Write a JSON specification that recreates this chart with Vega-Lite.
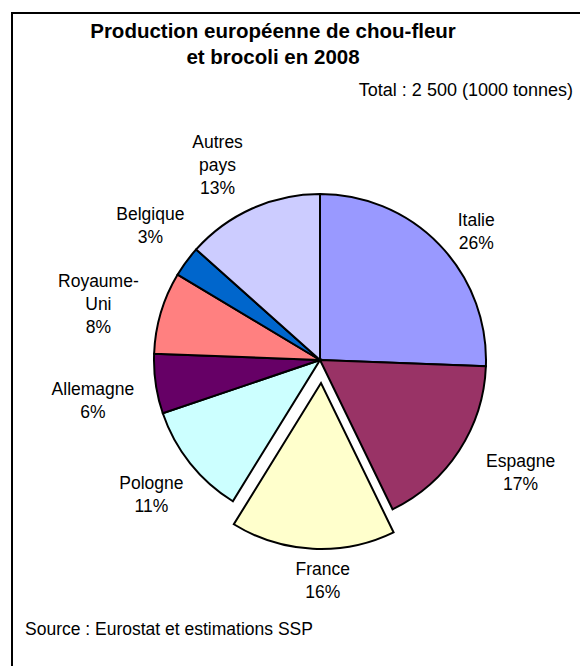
{
  "$schema": "https://vega.github.io/schema/vega-lite/v6.json",
  "padding": {"left": 11, "top": 12, "right": 0, "bottom": 0},
  "background": "white",
  "title": {
    "text": ["Production européenne de chou-fleur", "et brocoli en 2008"],
    "anchor": "middle",
    "dx": -47,
    "offset": -56,
    "fontSize": 20.5,
    "fontWeight": "bold",
    "lineHeight": 26
  },
  "vconcat": [
    {
      "title": {
        "text": "Total : 2 500 (1000 tonnes)",
        "anchor": "end",
        "dx": -56,
        "offset": -88,
        "fontSize": 18,
        "fontWeight": "normal"
      },
      "vconcat": [
        {
          "title": {
            "text": "Source : Eurostat et estimations SSP",
            "orient": "bottom",
            "anchor": "start",
            "dx": 13,
            "offset": -86,
            "fontSize": 17.5,
            "fontWeight": "normal"
          },
          "width": 616,
          "height": 694,
          "view": {"stroke": "black", "strokeWidth": 2},
          "data": {
            "values": [
              {"pays": "Italie", "valeur": 640, "rang": 1, "etiquette": "Italie\n26%"},
              {"pays": "Espagne", "valeur": 430, "rang": 2, "etiquette": "Espagne\n17%"},
              {"pays": "France", "valeur": 400, "rang": 3, "etiquette": "France\n16%"},
              {"pays": "Pologne", "valeur": 275, "rang": 4, "etiquette": "Pologne\n11%"},
              {"pays": "Allemagne", "valeur": 145, "rang": 5, "etiquette": "Allemagne\n6%"},
              {"pays": "Royaume-Uni", "valeur": 200, "rang": 6, "etiquette": "Royaume-\nUni\n8%"},
              {"pays": "Belgique", "valeur": 75, "rang": 7, "etiquette": "Belgique\n3%"},
              {"pays": "Autres pays", "valeur": 335, "rang": 8, "etiquette": "Autres\npays\n13%"}
            ]
          },
          "layer": [
            {
              "mark": {"type": "arc", "outerRadius": 166, "stroke": "black", "strokeWidth": 2},
              "encoding": {
                "theta": {"field": "valeur", "type": "quantitative", "stack": true},
                "order": {"field": "rang", "type": "quantitative"},
                "color": {
                  "field": "pays",
                  "type": "nominal",
                  "scale": {
                    "domain": ["Italie", "Espagne", "France", "Pologne", "Allemagne", "Royaume-Uni", "Belgique", "Autres pays"],
                    "range": ["#9999FF", "#993366", "#FFFFCC", "#CCFFFF", "#660066", "#FF8080", "#0066CC", "#CCCCFF"]
                  },
                  "legend": null
                },
                "opacity": {"condition": {"test": "datum.pays === 'France'", "value": 0}, "value": 1}
              }
            },
            {
              "mark": {"type": "arc", "outerRadius": 166, "stroke": "black", "strokeWidth": 2, "xOffset": 1, "yOffset": 23},
              "encoding": {
                "theta": {"field": "valeur", "type": "quantitative", "stack": true},
                "order": {"field": "rang", "type": "quantitative"},
                "color": {"field": "pays", "type": "nominal", "legend": null},
                "opacity": {"condition": {"test": "datum.pays === 'France'", "value": 1}, "value": 0}
              }
            },
            {
              "mark": {"type": "text", "radius": 209, "thetaOffset": 0.04, "fontSize": 17.5, "lineBreak": "\n", "lineHeight": 23, "align": "center", "baseline": "middle", "color": "black"},
              "encoding": {
                "theta": {"field": "valeur", "type": "quantitative", "stack": true},
                "order": {"field": "rang", "type": "quantitative"},
                "text": {"condition": {"test": "indexof(['Italie','Pologne'], datum.pays) >= 0", "field": "etiquette"}, "value": ""}
              }
            },
            {
              "mark": {"type": "text", "radius": 225, "thetaOffset": -0.108, "fontSize": 17.5, "lineBreak": "\n", "lineHeight": 23, "align": "center", "baseline": "middle", "color": "black"},
              "encoding": {
                "theta": {"field": "valeur", "type": "quantitative", "stack": true},
                "order": {"field": "rang", "type": "quantitative"},
                "text": {"condition": {"test": "datum.pays === 'Espagne'", "field": "etiquette"}, "value": ""}
              }
            },
            {
              "mark": {"type": "text", "radius": 187, "thetaOffset": -0.06, "xOffset": 1, "yOffset": 23, "fontSize": 17.5, "lineBreak": "\n", "lineHeight": 23, "align": "center", "baseline": "middle", "color": "black"},
              "encoding": {
                "theta": {"field": "valeur", "type": "quantitative", "stack": true},
                "order": {"field": "rang", "type": "quantitative"},
                "text": {"condition": {"test": "datum.pays === 'France'", "field": "etiquette"}, "value": ""}
              }
            },
            {
              "mark": {"type": "text", "radius": 229, "thetaOffset": 0.014, "fontSize": 17.5, "lineBreak": "\n", "lineHeight": 23, "align": "center", "baseline": "middle", "color": "black"},
              "encoding": {
                "theta": {"field": "valeur", "type": "quantitative", "stack": true},
                "order": {"field": "rang", "type": "quantitative"},
                "text": {"condition": {"test": "datum.pays === 'Allemagne'", "field": "etiquette"}, "value": ""}
              }
            },
            {
              "mark": {"type": "text", "radius": 235, "thetaOffset": 0.05, "fontSize": 17.5, "lineBreak": "\n", "lineHeight": 23, "align": "center", "baseline": "middle", "color": "black"},
              "encoding": {
                "theta": {"field": "valeur", "type": "quantitative", "stack": true},
                "order": {"field": "rang", "type": "quantitative"},
                "text": {"condition": {"test": "datum.pays === 'Royaume-Uni'", "field": "etiquette"}, "value": ""}
              }
            },
            {
              "mark": {"type": "text", "radius": 223, "thetaOffset": 0.072, "fontSize": 17.5, "lineBreak": "\n", "lineHeight": 23, "align": "center", "baseline": "middle", "color": "black"},
              "encoding": {
                "theta": {"field": "valeur", "type": "quantitative", "stack": true},
                "order": {"field": "rang", "type": "quantitative"},
                "text": {"condition": {"test": "datum.pays === 'Belgique'", "field": "etiquette"}, "value": ""}
              }
            },
            {
              "mark": {"type": "text", "radius": 240, "thetaOffset": -0.02, "fontSize": 17.5, "lineBreak": "\n", "lineHeight": 23, "align": "center", "baseline": "middle", "color": "black"},
              "encoding": {
                "theta": {"field": "valeur", "type": "quantitative", "stack": true},
                "order": {"field": "rang", "type": "quantitative"},
                "text": {"condition": {"test": "datum.pays === 'Autres pays'", "field": "etiquette"}, "value": ""}
              }
            }
          ]
        }
      ]
    }
  ],
  "config": {
    "font": "Liberation Sans",
    "view": {"stroke": "black", "strokeWidth": 2},
    "title": {"font": "Liberation Sans", "color": "black"}
  }
}
